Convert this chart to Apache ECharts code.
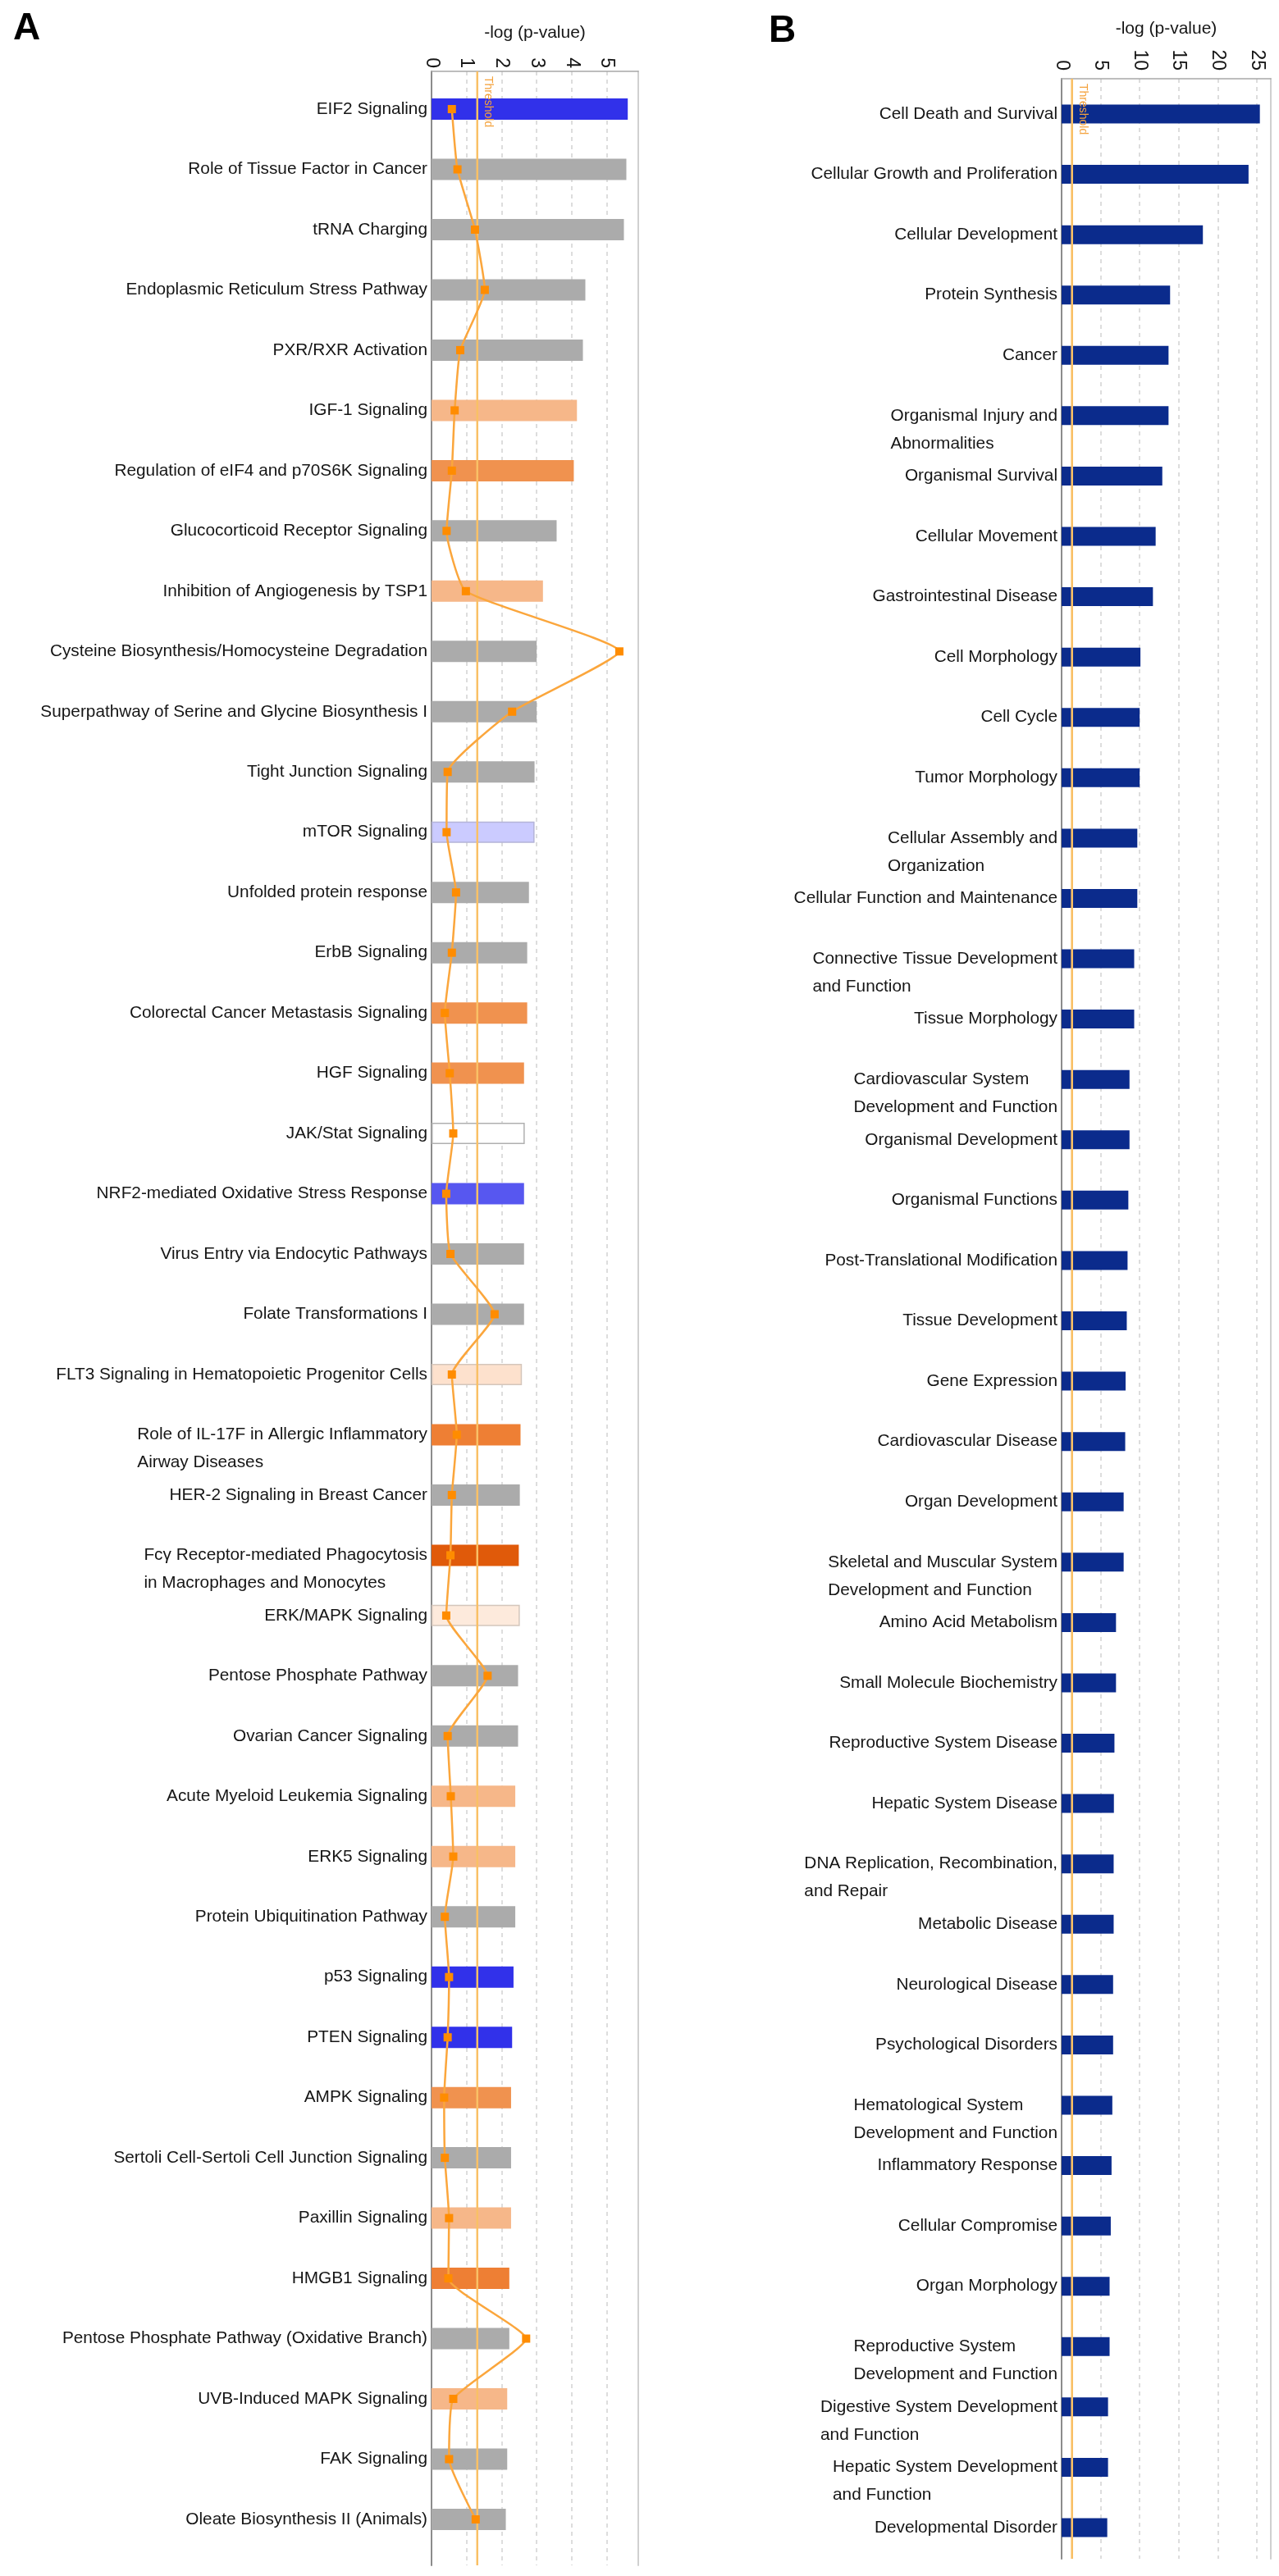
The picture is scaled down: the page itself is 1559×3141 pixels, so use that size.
<!DOCTYPE html>
<html><head><meta charset="utf-8">
<script src="https://cdn.jsdelivr.net/npm/echarts@6/dist/echarts.min.js"></script>
<style>html,body{margin:0;padding:0;background:#fff}#c{width:1559px;height:3141px}</style>
</head><body><div id="c"></div>
<script>
// ---------------- Panel A data ----------------
const categoriesA = [
  'EIF2 Signaling','Role of Tissue Factor in Cancer','tRNA Charging','Endoplasmic Reticulum Stress Pathway',
  'PXR/RXR Activation','IGF-1 Signaling','Regulation of eIF4 and p70S6K Signaling','Glucocorticoid Receptor Signaling',
  'Inhibition of Angiogenesis by TSP1','Cysteine Biosynthesis/Homocysteine Degradation',
  'Superpathway of Serine and Glycine Biosynthesis I','Tight Junction Signaling','mTOR Signaling',
  'Unfolded protein response','ErbB Signaling','Colorectal Cancer Metastasis Signaling','HGF Signaling',
  'JAK/Stat Signaling','NRF2-mediated Oxidative Stress Response','Virus Entry via Endocytic Pathways',
  'Folate Transformations I','FLT3 Signaling in Hematopoietic Progenitor Cells',
  'Role of IL-17F in Allergic Inflammatory\nAirway Diseases','HER-2 Signaling in Breast Cancer',
  'Fcγ Receptor-mediated Phagocytosis\nin Macrophages and Monocytes','ERK/MAPK Signaling',
  'Pentose Phosphate Pathway','Ovarian Cancer Signaling','Acute Myeloid Leukemia Signaling','ERK5 Signaling',
  'Protein Ubiquitination Pathway','p53 Signaling','PTEN Signaling','AMPK Signaling',
  'Sertoli Cell-Sertoli Cell Junction Signaling','Paxillin Signaling','HMGB1 Signaling',
  'Pentose Phosphate Pathway (Oxidative Branch)','UVB-Induced MAPK Signaling','FAK Signaling',
  'Oleate Biosynthesis II (Animals)'
];
const pValuesA = [5.6,5.56,5.49,4.39,4.32,4.15,4.06,3.57,3.18,3.0,3.0,2.94,2.94,2.78,2.73,2.73,2.64,2.66,2.64,2.64,
  2.64,2.58,2.54,2.52,2.49,2.52,2.47,2.47,2.39,2.39,2.39,2.34,2.3,2.27,2.27,2.27,2.22,2.22,2.16,2.16,2.12];
const ratioValuesA = [0.58,0.74,1.24,1.52,0.82,0.66,0.58,0.43,0.98,5.36,2.3,0.46,0.43,0.70,0.58,0.38,0.52,0.62,0.42,0.54,
  1.8,0.58,0.72,0.58,0.54,0.42,1.6,0.46,0.55,0.62,0.38,0.5,0.46,0.36,0.38,0.5,0.48,2.7,0.62,0.5,1.26];
// ratio line continues past the last visible row (next, off-chart pathway)
const ratioContinuationA = 1.26;
const zScoreClassA = ['blue','gray','gray','gray','gray','lorange','orange','gray','lorange','gray',
  'gray','gray','lavender','gray','gray','orange','orange','white','blue2','gray',
  'gray','peach','orange2','gray','dorange','peach2','gray','gray','lorange','lorange',
  'gray','blue','blue','orange','gray','lorange','orange2','gray','lorange','gray','gray'];
const ticksA = [0,1,2,3,4,5];

// ---------------- Panel B data ----------------
const categoriesB = [
  'Cell Death and Survival','Cellular Growth and Proliferation','Cellular Development','Protein Synthesis','Cancer',
  'Organismal Injury and\nAbnormalities','Organismal Survival','Cellular Movement','Gastrointestinal Disease',
  'Cell Morphology','Cell Cycle','Tumor Morphology','Cellular Assembly and\nOrganization',
  'Cellular Function and Maintenance','Connective Tissue Development\nand Function','Tissue Morphology',
  'Cardiovascular System\nDevelopment and Function','Organismal Development','Organismal Functions',
  'Post-Translational Modification','Tissue Development','Gene Expression','Cardiovascular Disease',
  'Organ Development','Skeletal and Muscular System\nDevelopment and Function','Amino Acid Metabolism',
  'Small Molecule Biochemistry','Reproductive System Disease','Hepatic System Disease',
  'DNA Replication, Recombination,\nand Repair','Metabolic Disease','Neurological Disease',
  'Psychological Disorders','Hematological System\nDevelopment and Function','Inflammatory Response',
  'Cellular Compromise','Organ Morphology','Reproductive System\nDevelopment and Function',
  'Digestive System Development\nand Function','Hepatic System Development\nand Function','Developmental Disorder'
];
const pValuesB = [25.4,23.95,18.1,13.9,13.7,13.7,12.9,12.05,11.7,10.1,10.0,10.0,9.7,9.7,9.3,9.3,8.7,8.7,8.55,8.45,
  8.35,8.2,8.15,7.95,7.95,6.97,6.97,6.77,6.7,6.67,6.67,6.6,6.6,6.5,6.4,6.3,6.15,6.15,5.95,5.95,5.85];
const ticksB = [0,5,10,15,20,25];

const THRESHOLD = 1.3;
const AXIS_TITLE = '-log (p-value)';

// ---------------- styles ----------------
const FONT = "'Liberation Sans', Arial, Helvetica, sans-serif";
const TEXT = '#151515';
const LINE_COLOR = '#fba63c';
const palette = {
  gray:    {color:'#ababab'},
  blue:    {color:'#3131ea'},
  blue2:   {color:'#5757f0'},
  lavender:{color:'#cbcbff', borderColor:'#b4b4d8', borderWidth:1.5},
  white:   {color:'#ffffff', borderColor:'#b0b0b0', borderWidth:1.5},
  peach:   {color:'#fde1cd', borderColor:'#d4c6bc', borderWidth:1.5},
  peach2:  {color:'#fdeadc', borderColor:'#d4c6bc', borderWidth:1.5},
  lorange: {color:'#f6b789'},
  orange:  {color:'#f0924f'},
  orange2: {color:'#ee7f34'},
  dorange: {color:'#e05a0a'}
};

function catLabel(v){
  const lines = v.split('\n');
  if (lines.length === 1) return '{s|' + v + '}';
  return '{s| }\n' + lines.map(l => '{l|' + l + '}').join('\n');
}
const labelRich = {
  s:{fontSize:20.8, fontFamily:FONT, color:TEXT, lineHeight:34},
  l:{fontSize:20.8, fontFamily:FONT, color:TEXT, lineHeight:34, align:'left'}
};

function topAxis(gridIndex, max, interval, ticks, margin, nameGap){
  return {
    type:'value', gridIndex, min:0, max, interval, position:'top',
    name: AXIS_TITLE, nameLocation:'middle', nameGap,
    nameTextStyle:{fontSize:21, fontFamily:FONT, color:TEXT},
    axisLine:{show:true, lineStyle:{color:'#a8a8a8', width:1.5}},
    axisTick:{show:false},
    axisLabel:{rotate:-90, fontSize:23, fontFamily:FONT, color:TEXT, margin,
      showMaxLabel:false, formatter: v => ticks.includes(v) ? String(v) : ''},
    splitLine:{show:true, lineStyle:{type:[5,5], color:'#d2d2d2', width:1.5}}
  };
}
function hiddenX(gridIndex, max){
  return {type:'value', gridIndex, min:0, max, show:false, splitLine:{show:false}};
}
function frameY(gridIndex, position, color){
  return {type:'value', gridIndex, min:0, max:1, inverse:true, position,
    axisLine:{show:true, onZero:false, lineStyle:{color, width:2}},
    axisTick:{show:false}, axisLabel:{show:false}, splitLine:{show:false}};
}
function catY(gridIndex, data){
  return {type:'category', gridIndex, data, inverse:true,
    axisLine:{show:false}, axisTick:{show:false}, splitLine:{show:false},
    axisLabel:{interval:0, margin:5, formatter:catLabel, rich:labelRich}};
}
function thresholdSeries(xIdx, yIdx){
  return {
    type:'line', xAxisIndex:xIdx, yAxisIndex:yIdx, data:[[THRESHOLD,0],[THRESHOLD,1]],
    symbol:'none', silent:true, z:3,
    lineStyle:{color:'#f9c066', width:2},
    markLine:{
      silent:true, symbol:['none','none'], animation:false,
      lineStyle:{color:'#f9c066', width:2, type:'solid'},
      label:{show:true, position:'insideStartTop', formatter:'Threshold', color:'#f4a23c',
        fontSize:14, fontFamily:FONT, distance:6},
      data:[{xAxis:THRESHOLD}]
    }
  };
}

const MAX_A = 5.9, MAX_B = 26.8;

const option = {
  animation:false,
  backgroundColor:'#ffffff',
  textStyle:{fontFamily:FONT},
  title:[
    {text:'A', left:11, top:7, textStyle:{fontSize:46, fontWeight:'bold', fontFamily:FONT, color:'#000'}},
    {text:'B', left:932, top:10, textStyle:{fontSize:46, fontWeight:'bold', fontFamily:FONT, color:'#000'}}
  ],
  grid:[
    {left:526, top:87, width:252, height:3041},
    {left:526, top:96.3, width:252, height:3012.4},
    {left:1294, top:96, width:255, height:3024},
    {left:1294, top:102.2, width:255, height:3016.6}
  ],
  xAxis:[
    topAxis(0, MAX_A, 1, ticksA, 4, 36),
    hiddenX(1, MAX_A),
    topAxis(2, MAX_B, 5, ticksB, 10, 50),
    hiddenX(3, MAX_B)
  ],
  yAxis:[
    frameY(0,'left','#8c8c8c'),
    frameY(0,'right','#d0d0d0'),
    catY(1, categoriesA),
    frameY(2,'left','#8c8c8c'),
    frameY(2,'right','#d0d0d0'),
    catY(3, categoriesB)
  ],
  series:[
    thresholdSeries(0,0),
    {
      type:'bar', xAxisIndex:1, yAxisIndex:2, barWidth:26, z:2,
      data: pValuesA.map((v,i) => ({value:v, itemStyle:palette[zScoreClassA[i]]}))
    },
    {
      type:'line', xAxisIndex:1, yAxisIndex:2, data:ratioValuesA, z:6,
      smooth:0.15, symbol:'rect', symbolSize:10,
      lineStyle:{color:LINE_COLOR, width:2.5},
      itemStyle:{color:'#ff8c00'},
      markLine:{
        silent:true, symbol:['none','none'], animation:false,
        label:{show:false},
        lineStyle:{color:LINE_COLOR, width:2.5, type:'solid'},
        data:[[
          {coord:[ratioValuesA[ratioValuesA.length-1], categoriesA.length-1]},
          {coord:[ratioContinuationA, categoriesA.length]}
        ]]
      }
    },
    thresholdSeries(2,3),
    {
      type:'bar', xAxisIndex:3, yAxisIndex:5, barWidth:23, z:2,
      itemStyle:{color:'#0b2b8c'},
      data: pValuesB
    }
  ]
};

const chart = echarts.init(document.getElementById('c'), null, {renderer:'canvas'});
chart.setOption(option);
</script>
</body></html>
